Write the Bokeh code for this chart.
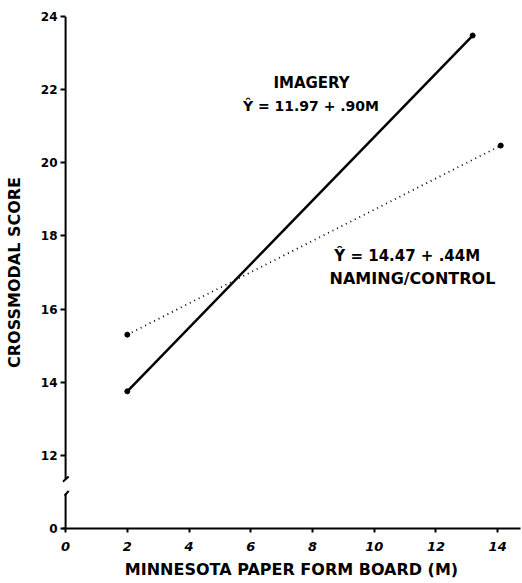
from bokeh.plotting import figure
from bokeh.models import FixedTicker, Label, Range1d
from bokeh.embed import file_html
from bokeh.resources import INLINE

# Data
x_imagery = [2.0, 13.19]
y_imagery = [13.75, 23.48]
x_naming = [2.0, 14.1]
y_naming = [15.3, 20.47]

x_ticks = [0, 2, 4, 6, 8, 10, 12, 14]
y_ticks = [10, 12, 14, 16, 18, 20, 22, 24]
y_tick_labels = {10: "0", 12: "12", 14: "14", 16: "16", 18: "18", 20: "20", 22: "22", 24: "24"}

FONT = "DejaVu Sans"

p = figure(width=522, height=583, output_backend="svg", toolbar_location=None,
           x_range=Range1d(-0.1, 14.74), y_range=Range1d(10, 24),
           min_border_left=62, min_border_right=2, min_border_top=16, min_border_bottom=55)
p.outline_line_color = None
p.xgrid.visible = False
p.ygrid.visible = False
p.background_fill_color = "white"

# axes
p.xaxis.ticker = FixedTicker(ticks=x_ticks)
p.yaxis.ticker = FixedTicker(ticks=y_ticks)
p.yaxis.major_label_overrides = y_tick_labels
for ax in (p.xaxis[0], p.yaxis[0]):
    ax.axis_line_width = 2
    ax.axis_line_color = "black"
    ax.major_tick_line_width = 2
    ax.major_tick_line_color = "black"
    ax.minor_tick_line_color = None
    ax.major_label_text_font = FONT
    ax.major_label_text_font_style = "bold"
    ax.major_label_text_color = "black"
    ax.axis_label_text_font = FONT
    ax.axis_label_text_font_style = "bold"
    ax.axis_label_text_font_size = "16px"
    ax.axis_label_text_color = "black"

p.yaxis.axis_line_color = None  # drawn below with a break
p.yaxis.major_tick_out = 2
p.yaxis.major_tick_in = 3
p.yaxis.major_label_standoff = 3
p.yaxis.major_label_text_font_size = "12px"
p.yaxis.axis_label = "CROSSMODAL SCORE"
p.yaxis.axis_label_standoff = 14

p.xaxis.major_tick_out = 4
p.xaxis.major_tick_in = 0
p.xaxis.major_label_standoff = 9
p.xaxis.major_label_text_font_size = "13px"
p.xaxis.major_label_text_font_style = "bold italic"
p.xaxis.axis_label = "MINNESOTA PAPER FORM BOARD (M)"
p.xaxis.axis_label_standoff = 6

# y axis line with a break between 0 and 12
p.segment(x0=[0, 0], y0=[10, 11.36], x1=[0, 0], y1=[10.95, 24], line_color="black", line_width=2)
p.segment(x0=[-0.09, -0.03], y0=[11.28, 10.9], x1=[0.1, 0.1], y1=[11.42, 11.03],
          line_color="black", line_width=2)

# regression lines
p.line(x_imagery, y_imagery, line_color="black", line_width=2.5)
p.scatter(x_imagery, y_imagery, size=5, color="black")
p.line(x_naming, y_naming, line_color="black", line_width=1.8, line_dash="1 4")
p.scatter(x_naming, y_naming, size=5, color="black")

def add_text(x, y, t, size="15px"):
    p.add_layout(Label(x=x, y=y, text=t, text_font=FONT, text_font_style="bold",
                       text_font_size=size, text_align="center", text_baseline="middle",
                       text_color="black"))

add_text(7.97, 22.17, "IMAGERY")
add_text(7.95, 21.54, "Ŷ = 11.97 + .90M", size="14px")
add_text(11.07, 17.46, "Ŷ = 14.47 + .44M")
add_text(11.24, 16.83, "NAMING/CONTROL", size="16px")

open("out.html", "w").write(file_html(p, INLINE))
